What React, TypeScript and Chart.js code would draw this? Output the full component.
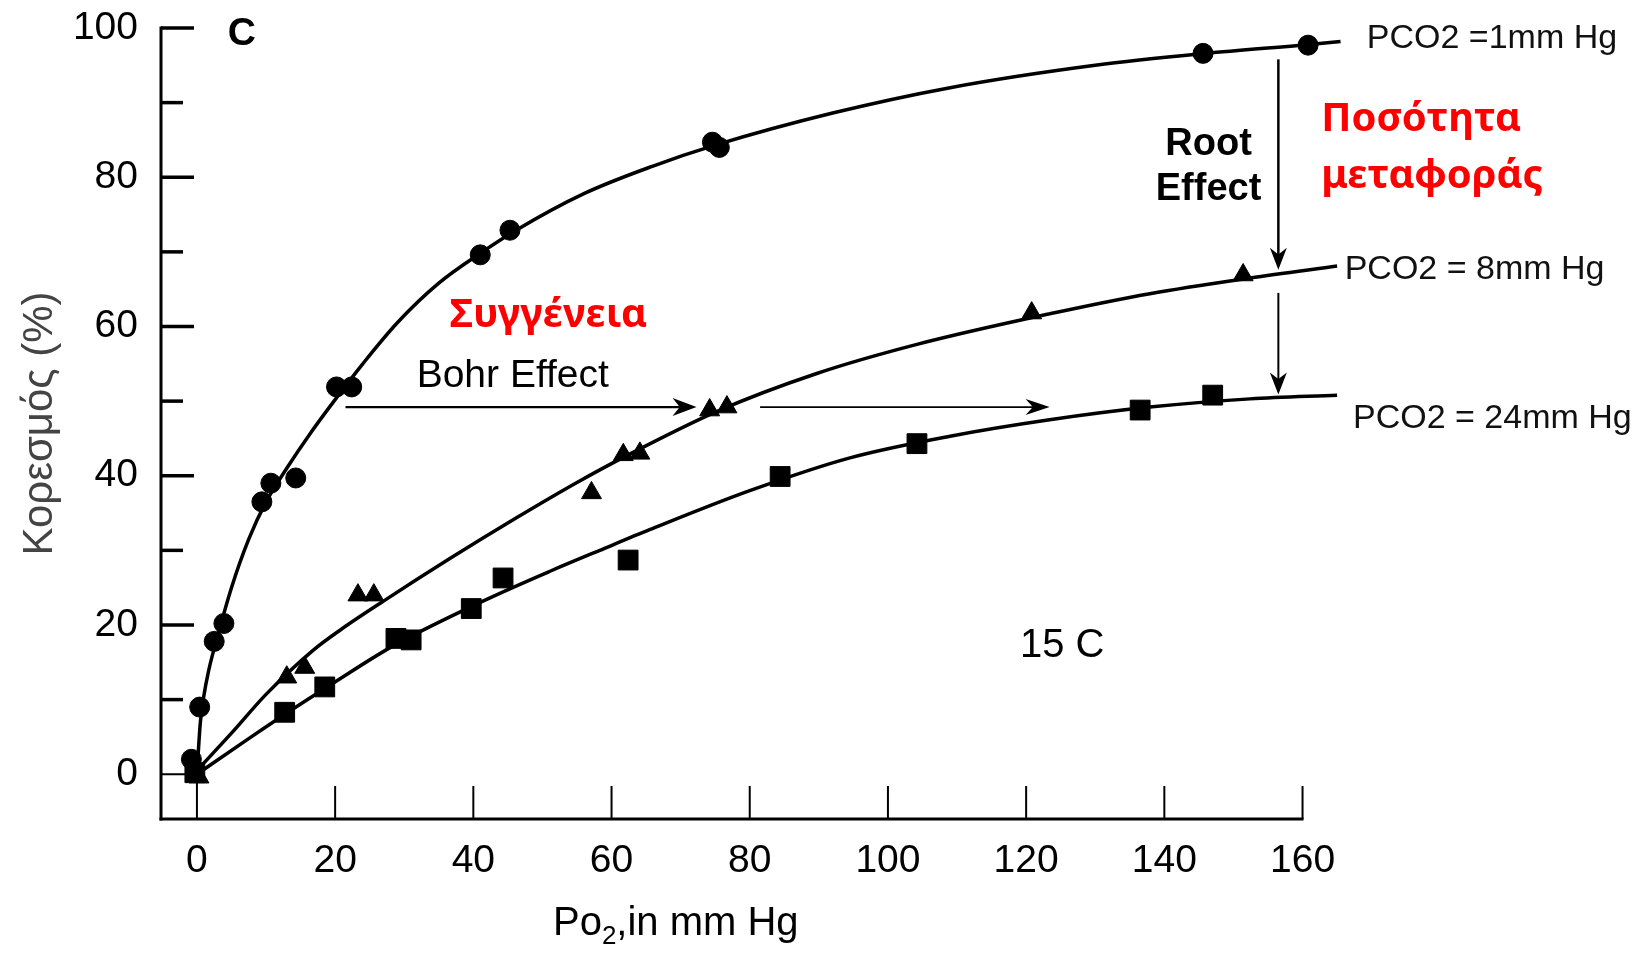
import React, { useEffect, useRef } from 'react';
import { Chart, registerables } from 'chart.js';

Chart.register(...registerables);

// ---------- data ----------
// measured points, PCO2 = 1 mm Hg (circles)
const co1Points: number[][] = [
  [-0.8, 2], [0.4, 9], [2.5, 17.8], [3.9, 20.2], [9.4, 36.5], [10.7, 39], [14.3, 39.7],
  [20.2, 51.9], [22.4, 51.9], [41, 69.6], [45.3, 72.9], [74.6, 84.7], [75.6, 84.0],
  [145.6, 96.6], [160.8, 97.7],
];
// measured points, PCO2 = 8 mm Hg (triangles)
const co8Points: number[][] = [
  [0.3, -0.4], [13, 13], [15.6, 14.3], [23.3, 24], [25.6, 24], [57.1, 37.7], [61.7, 42.8],
  [64.1, 43], [74.2, 48.8], [76.7, 49.2], [120.8, 61.8], [151.4, 66.9],
];
// measured points, PCO2 = 24 mm Hg (squares)
const co24Points: number[][] = [
  [-0.3, 0.2], [12.7, 8.3], [18.5, 11.7], [28.8, 18.2], [31, 18.0], [39.7, 22.2],
  [44.3, 26.3], [62.4, 28.7], [84.4, 39.9], [104.2, 44.3], [136.5, 48.8], [147, 50.8],
];
// fitted curves
const co1Curve: number[][] = [
  [0, 0], [0.5, 7], [1.5, 13], [3, 18.5], [5, 25], [7.5, 31.5], [10, 36.5], [13, 41],
  [16.5, 45.8], [20, 50.2], [24, 55], [29, 60.5], [35, 65.8], [41, 69.8], [46, 72.8],
  [56, 77.8], [66, 81.5], [75, 84.3], [92, 88.6], [109, 92], [130, 95], [146, 96.6],
  [161, 97.8], [165.5, 98.2],
];
const co8Curve: number[][] = [
  [0, 0.5], [5, 5.5], [10, 10.7], [16.8, 16.6], [20.7, 19.3], [27, 23.2], [36.6, 28.9],
  [46.3, 34.4], [55, 39.1], [62, 42.6], [75.2, 48.6], [89.7, 53.7], [104.2, 57.6],
  [123.4, 61.7], [137.9, 64.4], [152.4, 66.5], [165, 68.1],
];
const co24Curve: number[][] = [
  [0, 0], [7.7, 4.9], [13.5, 8.5], [19.7, 12.2], [28.4, 17.2], [41.4, 23.2], [51.1, 27.2],
  [58.3, 30.0], [65.6, 32.8], [80, 38.0], [94.5, 42.4], [109, 45.3], [123.4, 47.5],
  [137.9, 49.2], [152.4, 50.3], [165, 50.8],
];

const xTickValues = [0, 20, 40, 60, 80, 100, 120, 140, 160];
const yTickValues = [0, 10, 20, 30, 40, 50, 60, 70, 80, 90, 100];

const seriesLabels = ['PCO2 =1mm Hg', 'PCO2 = 8mm Hg', 'PCO2 = 24mm Hg'];
const xTitle = ['Po', '2', ',in mm Hg'];
const yTitle = 'Κορεσμός (%)';

// ---------- styling ----------
const FONT = '"Liberation Sans", Arial, Helvetica, sans-serif';
const GREEK = '"Noto Sans", "Open Sans", sans-serif';

const toXY = (arr: number[][]) => arr.map(([x, y]) => ({ x, y }));

function drawArrow(ctx: CanvasRenderingContext2D, x1: number, y1: number, x2: number, y2: number,
  lw: number, hl: number, hw: number) {
  const a = Math.atan2(y2 - y1, x2 - x1);
  const c = Math.cos(a), s = Math.sin(a);
  const bx = x2 - c * hl, by = y2 - s * hl;
  ctx.lineWidth = lw;
  ctx.beginPath();
  ctx.moveTo(x1, y1);
  ctx.lineTo(x2 - c * hl * 0.6, y2 - s * hl * 0.6);
  ctx.stroke();
  ctx.beginPath();
  ctx.moveTo(x2, y2);
  ctx.lineTo(bx + s * hw / 2, by - c * hw / 2);
  ctx.lineTo(x2 - c * hl * 0.7, y2 - s * hl * 0.7);
  ctx.lineTo(bx - s * hw / 2, by + c * hw / 2);
  ctx.closePath();
  ctx.fill();
}

const axesPlugin = {
  id: 'customAxes',
  beforeDatasetsDraw(chart: any) {
    const { ctx } = chart;
    const xs = chart.scales.x, ys = chart.scales.y;
    const left = chart.chartArea.left;
    const bottom = chart.chartArea.bottom;
    const top = ys.getPixelForValue(100);
    const right = xs.getPixelForValue(160);
    ctx.save();
    ctx.strokeStyle = '#000';
    ctx.lineCap = 'butt';
    ctx.lineWidth = 3;
    ctx.beginPath();
    ctx.moveTo(left, top - 1.5);
    ctx.lineTo(left, bottom + 1.5);
    ctx.stroke();
    ctx.beginPath();
    ctx.moveTo(left - 1.5, bottom);
    ctx.lineTo(right + 1, bottom);
    ctx.stroke();
    yTickValues.forEach((v) => {
      const py = ys.getPixelForValue(v);
      let len = v % 20 === 0 ? 33 : 22;
      ctx.lineWidth = 3.5;
      if (v === 0) { len = xs.getPixelForValue(0) - left; ctx.lineWidth = 2; }
      ctx.beginPath();
      ctx.moveTo(left, py);
      ctx.lineTo(left + len, py);
      ctx.stroke();
    });
    xTickValues.forEach((v) => {
      const px = xs.getPixelForValue(v);
      const end = v === 0 ? ys.getPixelForValue(0) : bottom - 33;
      ctx.lineWidth = 2;
      ctx.beginPath();
      ctx.moveTo(px, bottom);
      ctx.lineTo(px, end);
      ctx.stroke();
    });
    ctx.restore();
  },
};

const annotationsPlugin = {
  id: 'annotations',
  afterDatasetsDraw(chart: any) {
    const { ctx } = chart;
    const xs = chart.scales.x, ys = chart.scales.y;
    const X = (v: number) => xs.getPixelForValue(v);
    const Y = (v: number) => ys.getPixelForValue(v);
    ctx.save();
    ctx.fillStyle = '#000';
    ctx.strokeStyle = '#000';
    // Root effect arrows
    drawArrow(ctx, X(156.5), Y(95.8), X(156.5), Y(67.6), 2.5, 22, 17);
    drawArrow(ctx, X(156.5), Y(64.5), X(156.5), Y(50.9), 2, 22, 17);
    // Bohr effect arrows
    drawArrow(ctx, X(21.5), Y(49.2), X(72.3), Y(49.2), 2.2, 24, 18);
    drawArrow(ctx, X(81.5), Y(49.2), X(123.4), Y(49.2), 1.8, 24, 16);

    ctx.textBaseline = 'alphabetic';
    // panel letter
    ctx.textAlign = 'center';
    ctx.font = `bold 39px ${FONT}`;
    ctx.fillText('C', X(6.5), Y(97.7));
    // Root Effect
    ctx.font = `bold 38px ${FONT}`;
    ctx.fillText('Root', X(146.4), Y(83));
    ctx.fillText('Effect', X(146.4), Y(76.9));
    // series labels
    ctx.textAlign = 'left';
    ctx.fillStyle = '#111';
    ctx.font = `34px ${FONT}`;
    ctx.fillText(seriesLabels[0], X(169.3), Y(97.3));
    ctx.fillText(seriesLabels[1], X(166.1), Y(66.4));
    ctx.fillText(seriesLabels[2], X(167.3), Y(46.4));
    ctx.fillStyle = '#000';
    // Bohr Effect / 15 C
    ctx.font = `39px ${FONT}`;
    ctx.fillText('Bohr Effect', X(31.8), Y(51.9));
    ctx.font = `40px ${FONT}`;
    ctx.fillText('15 C', X(119.1), Y(15.7));
    // red Greek notes
    ctx.fillStyle = '#FF0000';
    ctx.font = `bold 40px ${GREEK}`;
    ctx.fillText('Συγγένεια', X(36.6), Y(59.9));
    ctx.fillText('Ποσότητα', X(162.7), Y(86.2));
    ctx.fillText('μεταφοράς', X(162.7), Y(78.6));
    // x-axis title with subscript
    ctx.fillStyle = '#000';
    const big = `40px ${FONT}`, small = `26px ${FONT}`;
    ctx.font = big;
    const w1 = ctx.measureText(xTitle[0]).width;
    const w3 = ctx.measureText(xTitle[2]).width;
    ctx.font = small;
    const w2 = ctx.measureText(xTitle[1]).width;
    const total = w1 + w2 + w3;
    let cx = X(69.3) - total / 2;
    const by = Y(-21.5);
    ctx.font = big;
    ctx.fillText(xTitle[0], cx, by);
    cx += w1;
    ctx.font = small;
    ctx.fillText(xTitle[1], cx, by + 9);
    cx += w2;
    ctx.font = big;
    ctx.fillText(xTitle[2], cx, by);
    ctx.restore();
  },
};

export default function App() {
  const canvasRef = useRef<HTMLCanvasElement | null>(null);

  useEffect(() => {
    if (!canvasRef.current) return;
    const lineDs = (data: number[][]) => ({
      type: 'line' as const,
      data: toXY(data),
      borderColor: '#000',
      borderWidth: 3.5,
      pointRadius: 0,
      fill: false,
      showLine: true,
      cubicInterpolationMode: 'monotone' as const,
      clip: false as const,
    });
    const pointDs = (data: number[][], style: string, r: number) => ({
      type: 'scatter' as const,
      data: toXY(data),
      pointStyle: style,
      pointRadius: r,
      pointBackgroundColor: '#000',
      pointBorderColor: '#000',
      pointBorderWidth: 1,
      showLine: false,
      clip: false as const,
    });
    const chart = new Chart(canvasRef.current, {
      type: 'scatter',
      data: {
        datasets: [
          lineDs(co1Curve),
          lineDs(co8Curve),
          lineDs(co24Curve),
          pointDs(co1Points, 'circle', 10),
          pointDs(co8Points, 'triangle', 11.5),
          pointDs(co24Points, 'rect', 14),
        ] as any,
      },
      options: {
        responsive: false,
        animation: false,
        events: [],
        layout: { padding: { left: 0, top: 28, right: 297, bottom: 0 } },
        plugins: { legend: { display: false }, tooltip: { enabled: false } },
        scales: {
          x: {
            type: 'linear',
            min: -5.2,
            max: 166,
            grid: { display: false, drawTicks: false },
            border: { display: false },
            afterBuildTicks: (s: any) => { s.ticks = xTickValues.map((v) => ({ value: v })); },
            afterFit: (s: any) => { s.height = 135; s.paddingLeft = 0; s.paddingRight = 0; },
            ticks: {
              autoSkip: false,
              maxRotation: 0,
              padding: 19,
              color: '#000',
              font: { family: FONT, size: 39 },
              callback: (v: any) => String(v),
            },
          },
          y: {
            type: 'linear',
            min: -6,
            max: 100,
            grid: { display: false, drawTicks: false },
            border: { display: false },
            afterBuildTicks: (s: any) => { s.ticks = yTickValues.map((v) => ({ value: v })); },
            afterFit: (s: any) => { s.width = 161; s.paddingTop = 0; s.paddingBottom = 0; },
            ticks: {
              autoSkip: false,
              padding: 23,
              color: '#000',
              font: { family: FONT, size: 39 },
              callback: (v: any) => (Number(v) % 20 === 0 ? String(v) : ''),
            },
            title: {
              display: true,
              text: yTitle,
              color: '#444',
              font: { family: FONT, size: 42 },
              padding: { top: 15, bottom: 0 },
            },
          },
        },
      } as any,
      plugins: [axesPlugin, annotationsPlugin],
    });
    return () => chart.destroy();
  }, []);

  return (
    <div style={{ position: 'fixed', left: 0, top: 0, width: 1641, height: 954, background: '#fff' }}>
      <canvas ref={canvasRef} width={1641} height={954} style={{ display: 'block' }} />
    </div>
  );
}
